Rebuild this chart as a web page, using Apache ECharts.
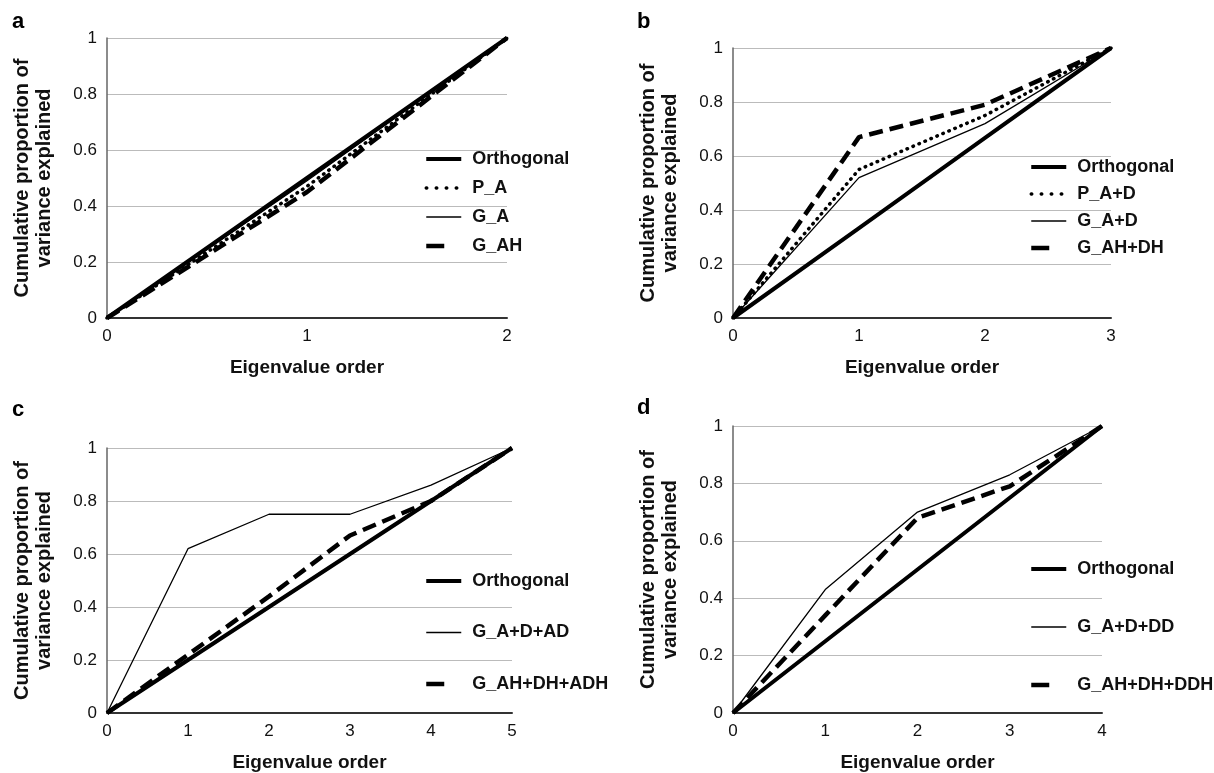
<!DOCTYPE html>
<html>
<head>
<meta charset="utf-8">
<title>Cumulative proportion of variance explained</title>
<script src="https://cdn.jsdelivr.net/npm/echarts@6/dist/echarts.min.js"></script>
<style>
  html, body { margin: 0; padding: 0; background: #fff; }
  #chart { width: 1214px; height: 773px; }
</style>
</head>
<body>
<div id="chart"></div>
<script>
// eigenvalue order (x) for each panel
const orderA = [0, 1, 2];
const orderB = [0, 1, 2, 3];
const orderC = [0, 1, 2, 3, 4, 5];
const orderD = [0, 1, 2, 3, 4];

// panel a
const orthA = [0, 0.5, 1];
const pA = [0, 0.47, 1];
const gA = [0, 0.49, 1];
const gAH = [0, 0.45, 1];

// panel b
const orthB = [0, 0.333, 0.667, 1];
const pAD = [0, 0.55, 0.75, 1];
const gAD = [0, 0.52, 0.72, 1];
const gAHDH = [0, 0.67, 0.79, 1];

// panel c
const orthC = [0, 0.2, 0.4, 0.6, 0.8, 1];
const gADAD = [0, 0.62, 0.75, 0.75, 0.86, 1];
const gAHDHADH = [0, 0.22, 0.44, 0.67, 0.8, 1];

// panel d
const orthD = [0, 0.25, 0.5, 0.75, 1];
const gADDD = [0, 0.43, 0.7, 0.83, 1];
const gAHDHDDH = [0, 0.34, 0.68, 0.79, 1];

const panelLetters = ['a', 'b', 'c', 'd'];
const xMax = [2, 3, 5, 4];

const font = 'Liberation Sans, Arial, Helvetica, sans-serif';

// line looks
const thick = { color: '#000', width: 4, type: 'solid' };
const dotted = { color: '#000', width: 3.5, type: [0.5, 6], cap: 'round' };
const thin = { color: '#000', width: 1.3, type: 'solid' };
const dashed = { color: '#000', width: 4.5, type: [14, 7] };

const pairs = (xs, ys) => xs.map((x, i) => [x, ys[i]]);

function line(name, idx, xs, ys, style) {
  return {
    name: name,
    type: 'line',
    xAxisIndex: idx,
    yAxisIndex: idx,
    data: pairs(xs, ys),
    symbol: 'none',
    color: '#000',
    lineStyle: style,
    silent: true
  };
}

// grid boxes (px)
const grids = [
  { left: 107, top: 38, width: 400, height: 280 },
  { left: 733, top: 48, width: 378, height: 270 },
  { left: 107, top: 448, width: 405, height: 268 },
  { left: 733, top: 426, width: 369, height: 290 }
];

const xAxes = grids.map((g, i) => ({
  type: 'value',
  gridIndex: i,
  min: 0,
  max: xMax[i],
  interval: 1,
  name: 'Eigenvalue order',
  nameLocation: 'middle',
  nameGap: 40,
  nameTextStyle: { fontFamily: font, fontSize: 19, fontWeight: 'bold', color: '#111' },
  axisLine: { show: true, onZero: false, lineStyle: { color: '#333', width: 2 } },
  axisTick: { show: false },
  splitLine: { show: false },
  axisLabel: { fontFamily: font, fontSize: 17, color: '#111', margin: 10 }
}));

const yAxes = grids.map((g, i) => ({
  type: 'value',
  gridIndex: i,
  min: 0,
  max: 1,
  interval: 0.2,
  name: 'Cumulative proportion of\nvariance explained',
  nameLocation: 'middle',
  nameGap: 52,
  nameTextStyle: { fontFamily: font, fontSize: 20, fontWeight: 'bold', color: '#111', lineHeight: 22 },
  axisLine: { show: true, lineStyle: { color: '#666', width: 1.5 } },
  axisTick: { show: false },
  splitLine: { show: true, lineStyle: { color: '#bbb', width: 1 } },
  axisLabel: { fontFamily: font, fontSize: 17, color: '#111', margin: 10 }
}));

const legendText = { fontFamily: font, fontSize: 18, fontWeight: 'bold', color: '#111', lineHeight: 20, padding: [0, 0, 0, 6] };

function legend(left, top, gap, names) {
  return {
    orient: 'vertical',
    left: left,
    top: top,
    padding: 0,
    itemGap: gap,
    itemWidth: 35,
    itemHeight: 14,
    selectedMode: false,
    itemStyle: { opacity: 0 },   // keep only the line sample, no marker
    lineStyle: { width: 'inherit' },
    textStyle: legendText,
    data: names.map(n => {
      if (n.startsWith('G_AH')) {
        return { name: n, lineStyle: { width: 'inherit', type: [18, 40] } };
      }
      if (n.startsWith('P_')) {
        return { name: n, lineStyle: { width: 'inherit', type: [0.5, 9.5] } };
      }
      return { name: n };
    })
  };
}

const option = {
  animation: false,
  backgroundColor: '#fff',
  title: panelLetters.map((t, i) => ({
    text: t,
    left: [12, 637, 12, 637][i],
    top: [11, 11, 399, 397][i],
    padding: 0,
    textStyle: { fontFamily: font, fontSize: 22, fontWeight: 'bold', color: '#000' }
  })),
  grid: grids,
  xAxis: xAxes,
  yAxis: yAxes,
  legend: [
    legend(424, 149, 9, ['Orthogonal', 'P_A', 'G_A', 'G_AH']),
    legend(1029, 157, 7, ['Orthogonal', 'P_A+D', 'G_A+D', 'G_AH+DH']),
    legend(424, 571, 31.5, ['Orthogonal', 'G_A+D+AD', 'G_AH+DH+ADH']),
    legend(1029, 559, 38, ['Orthogonal', 'G_A+D+DD', 'G_AH+DH+DDH'])
  ],
  series: [
    line('Orthogonal', 0, orderA, orthA, thick),
    line('P_A', 0, orderA, pA, dotted),
    line('G_A', 0, orderA, gA, thin),
    line('G_AH', 0, orderA, gAH, dashed),

    line('Orthogonal', 1, orderB, orthB, thick),
    line('P_A+D', 1, orderB, pAD, dotted),
    line('G_A+D', 1, orderB, gAD, thin),
    line('G_AH+DH', 1, orderB, gAHDH, dashed),

    line('Orthogonal', 2, orderC, orthC, thick),
    line('G_A+D+AD', 2, orderC, gADAD, thin),
    line('G_AH+DH+ADH', 2, orderC, gAHDHADH, dashed),

    line('Orthogonal', 3, orderD, orthD, thick),
    line('G_A+D+DD', 3, orderD, gADDD, thin),
    line('G_AH+DH+DDH', 3, orderD, gAHDHDDH, dashed)
  ]
};

const chart = echarts.init(document.getElementById('chart'));
chart.setOption(option);
</script>
</body>
</html>
